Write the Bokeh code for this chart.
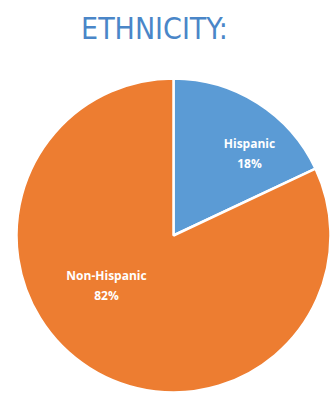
import math
from bokeh.plotting import figure
from bokeh.models import Range1d, ColumnDataSource
from bokeh.core.properties import value
from bokeh.embed import file_html
from bokeh.resources import INLINE

# Data
categories = ["Hispanic", "Non-Hispanic"]
shares = [18, 82]
colors = ["#5B9BD5", "#ED7D31"]
title_text = "ETHNICITY:"

W, H = 336, 394
cx, cy, R = 173, H - 235, 157
# label offsets from pie center (layout)
label_off = [(76, 82), (-67, -50)]

p = figure(width=W, height=H, output_backend="svg", toolbar_location=None,
           x_range=Range1d(0, W), y_range=Range1d(0, H), min_border=0)
p.axis.visible = False
p.grid.visible = False
p.outline_line_color = None
p.background_fill_color = "white"
p.border_fill_color = "white"

total = sum(shares)
starts, ends = [], []
a = math.pi / 2
for s in shares:
    e = a - s / total * 2 * math.pi
    starts.append(a)
    ends.append(e)
    a = e

src = ColumnDataSource(dict(start=starts, end=ends, color=colors,
                            x=[cx] * len(shares), y=[cy] * len(shares)))
p.wedge(x="x", y="y", radius=R, start_angle="end", end_angle="start",
        fill_color="color", line_color="white", line_width=2.5, source=src)

lx = [cx + o[0] for o in label_off]
ly = [cy + o[1] for o in label_off]
p.text(x=lx, y=[v + 10 for v in ly], text=categories, text_color="white",
       text_font=value("Open Sans"), text_font_style="bold", text_font_size="12px",
       text_align="center", text_baseline="middle")
p.text(x=lx, y=[v - 10 for v in ly], text=[f"{s}%" for s in shares], text_color="white",
       text_font=value("Open Sans"), text_font_style="bold", text_font_size="12px",
       text_align="center", text_baseline="middle")

p.text(x=[154], y=[H - 28], text=[title_text], text_color="#4A86C8",
       text_font=value("'DejaVu Sans Condensed', 'Roboto', sans-serif"), text_font_size="30px",
       text_align="center", text_baseline="middle")

open("out.html", "w").write(file_html(p, INLINE))
